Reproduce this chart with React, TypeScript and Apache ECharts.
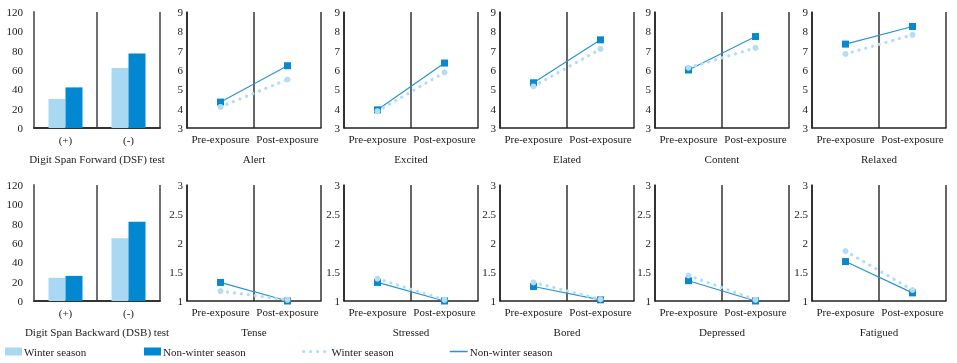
import React, { useEffect, useRef } from 'react';
import * as echarts from 'echarts';

// ---- data ----
const barCategories = ['(+)', '(-)'];
const barTitles = ['Digit Span Forward (DSF) test', 'Digit Span Backward (DSB) test'];
const barWinter = [
  [30, 62],
  [24, 65],
];
const barNonWinter = [
  [42, 77],
  [26, 82],
];
const barAxis = { min: 0, max: 120, interval: 20 };

const phases = ['Pre-exposure', 'Post-exposure'];
const moodTitles = ['Alert', 'Excited', 'Elated', 'Content', 'Relaxed', 'Tense', 'Stressed', 'Bored', 'Depressed', 'Fatigued'];
const winterMood = [
  [4.09, 5.51],
  [3.87, 5.88],
  [5.15, 7.09],
  [6.12, 7.14],
  [6.83, 7.82],
  [1.17, 1.02],
  [1.385, 1.02],
  [1.32, 1.03],
  [1.44, 1.02],
  [1.86, 1.19],
];
const nonWinterMood = [
  [4.34, 6.22],
  [3.94, 6.36],
  [5.34, 7.56],
  [6.0, 7.73],
  [7.34, 8.25],
  [1.32, 1.0],
  [1.32, 1.0],
  [1.25, 1.02],
  [1.35, 1.0],
  [1.68, 1.14],
];
const positiveAxis = { min: 3, max: 9, interval: 1 };
const negativeAxis = { min: 1, max: 3, interval: 0.5 };

const seriesNames = ['Winter season', 'Non-winter season'];

// ---- style ----
const FONT = 'Liberation Serif';
const TEXT = '#1a1a1a';
const WINTER_BAR = '#a9d9f2';
const NONWINTER_BAR = '#0288d1';
const WINTER_DOT = '#b3ddf5';
const NONWINTER_LINE = '#2a92d6';
const NONWINTER_MARK = '#0a88cd';
const DOT_STYLE = { color: WINTER_DOT, width: 3.2, type: [0.1, 6.9], cap: 'round' };

const rowTops = [12, 185];
const plotH = 116;
const barLeft = 34;
const barW = 126;
const moodLefts = [187, 344, 500, 655, 812];
const moodW = 134;

export default function App() {
  const ref = useRef<HTMLDivElement>(null);
  useEffect(() => {
    if (!ref.current) return;
    const chart = echarts.init(ref.current, null, { renderer: 'svg' });
    const grids: any[] = [];
    const xAxes: any[] = [];
    const yAxes: any[] = [];
    const series: any[] = [];

    const labelStyle = { fontFamily: FONT, fontSize: 11, color: TEXT };

    // bar panels
    for (let r = 0; r < 2; r++) {
      const gi = grids.length;
      grids.push({ left: barLeft, top: rowTops[r], width: barW, height: plotH });
      xAxes.push({
        gridIndex: gi,
        type: 'category',
        data: barCategories,
        boundaryGap: true,
        axisLine: { show: true, lineStyle: { color: '#333', width: 2 } },
        axisTick: { show: false },
        axisLabel: { ...labelStyle, margin: 6 },
        splitLine: { show: true, lineStyle: { color: '#707070', width: 2 } },
        name: barTitles[r],
        nameLocation: 'middle',
        nameGap: 25,
        nameTextStyle: labelStyle,
      });
      yAxes.push({
        gridIndex: gi,
        type: 'value',
        ...barAxis,
        axisLine: { show: true, lineStyle: { color: '#707070', width: 2 } },
        axisTick: { show: false },
        splitLine: { show: false },
        axisLabel: { ...labelStyle, margin: 11 },
      });
      series.push({
        type: 'bar',
        name: seriesNames[0],
        xAxisIndex: gi,
        yAxisIndex: gi,
        data: barWinter[r],
        barWidth: 17,
        barGap: '0%',
        itemStyle: { color: WINTER_BAR },
      });
      series.push({
        type: 'bar',
        name: seriesNames[1],
        xAxisIndex: gi,
        yAxisIndex: gi,
        data: barNonWinter[r],
        barWidth: 17,
        barGap: '0%',
        itemStyle: { color: NONWINTER_BAR },
      });
    }

    // mood panels
    moodTitles.forEach((title, i) => {
      const r = i < 5 ? 0 : 1;
      const c = i % 5;
      const gi = grids.length;
      grids.push({ left: moodLefts[c], top: rowTops[r], width: moodW, height: plotH });
      xAxes.push({
        gridIndex: gi,
        type: 'category',
        data: phases,
        boundaryGap: true,
        axisLine: { show: true, lineStyle: { color: '#222', width: 1.5 } },
        axisTick: { show: false },
        axisLabel: { ...labelStyle, margin: 5, interval: 0 },
        splitLine: { show: true, lineStyle: { color: '#333', width: 1.5 } },
        name: title,
        nameLocation: 'middle',
        nameGap: 25,
        nameTextStyle: labelStyle,
      });
      yAxes.push({
        gridIndex: gi,
        type: 'value',
        ...(r === 0 ? positiveAxis : negativeAxis),
        axisLine: { show: true, lineStyle: { color: '#222', width: 1.5 } },
        axisTick: { show: false },
        splitLine: { show: false },
        axisLabel: { ...labelStyle, margin: 4 },
      });
      series.push({
        type: 'line',
        name: seriesNames[1] + ' line',
        xAxisIndex: gi,
        yAxisIndex: gi,
        data: nonWinterMood[i],
        symbol: 'rect',
        symbolSize: 7,
        itemStyle: { color: NONWINTER_MARK },
        lineStyle: { color: NONWINTER_LINE, width: 1.2 },
        z: 3,
      });
      series.push({
        type: 'line',
        name: seriesNames[0] + ' line',
        xAxisIndex: gi,
        yAxisIndex: gi,
        data: winterMood[i],
        symbol: 'circle',
        symbolSize: 6,
        itemStyle: { color: WINTER_DOT },
        lineStyle: DOT_STYLE,
        z: 4,
      });
    });

    const legendBase = {
      orient: 'horizontal',
      top: 346,
      padding: 0,
      itemGap: 0,
      selectedMode: false,
      textStyle: { fontFamily: FONT, fontSize: 11, color: TEXT, padding: [0, 0, 0, -3] },
      formatter: (n: string) => n.replace(' line', ''),
    };

    const option: any = {
      animation: false,
      textStyle: { fontFamily: FONT },
      grid: grids,
      xAxis: xAxes,
      yAxis: yAxes,
      series,
      legend: [
        { ...legendBase, left: 5, icon: 'rect', itemWidth: 17, itemHeight: 8, data: [seriesNames[0]] },
        { ...legendBase, left: 144, icon: 'rect', itemWidth: 17, itemHeight: 8, data: [seriesNames[1]] },
        {
          ...legendBase,
          left: 302,
          itemWidth: 26,
          itemHeight: 8,
          data: [
            {
              name: seriesNames[0] + ' line',
              itemStyle: { opacity: 0 },
              lineStyle: DOT_STYLE,
            },
          ],
        },
        {
          ...legendBase,
          left: 449,
          itemWidth: 18,
          itemHeight: 8,
          data: [
            {
              name: seriesNames[1] + ' line',
              itemStyle: { opacity: 0 },
              lineStyle: { color: NONWINTER_LINE, width: 1.5 },
            },
          ],
        },
      ],
    };
    chart.setOption(option);
    return () => chart.dispose();
  }, []);
  return <div ref={ref} style={{ position: 'fixed', left: 0, top: 0, width: 957, height: 363 }} />;
}
